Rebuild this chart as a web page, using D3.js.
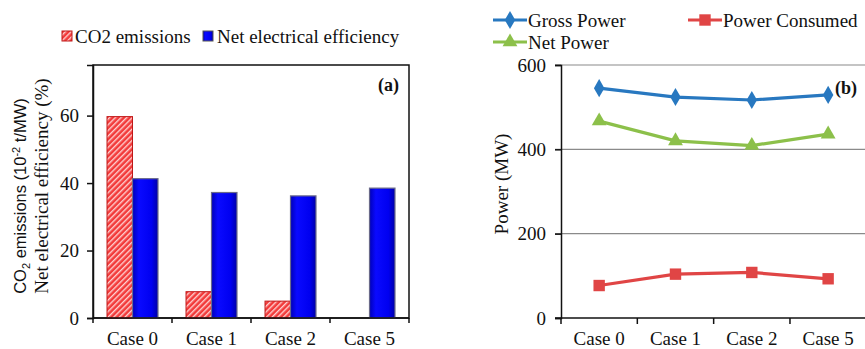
<!DOCTYPE html>
<html>
<head>
<meta charset="utf-8">
<script src="https://cdn.jsdelivr.net/npm/d3@7"></script>
<style>
  body { margin: 0; background: #fff; }
</style>
</head>
<body>
<div id="graph"></div>
<script>
// data
const cases = ["Case 0", "Case 1", "Case 2", "Case 5"];
const co2 = [59.7, 7.8, 5.0, 0];
const efficiency = [41.3, 37.2, 36.2, 38.5];
const leftTicks = [0, 20, 40, 60];

const grossPower = [545, 524, 517, 529];
const powerConsumed = [77, 104, 108, 93];
const netPower = [467, 420, 409, 436];
const rightTicks = [0, 200, 400, 600];

const SERIF = "'Liberation Serif', 'Times New Roman', 'DejaVu Serif', serif";

let svg = d3.select("#graph")
  .append("svg")
  .attr("width", 865)
  .attr("height", 349)
  .style("font-family", SERIF);

let defs = svg.append("defs");
let hatch = defs.append("pattern")
  .attr("id", "hatch")
  .attr("patternUnits", "userSpaceOnUse")
  .attr("width", 4).attr("height", 4)
  .attr("patternTransform", "rotate(45)");
hatch.append("rect").attr("width", 4).attr("height", 4).attr("fill", "#f23a3a");
hatch.append("rect").attr("width", 1.4).attr("height", 4).attr("fill", "#ffd0d0");

let grad = defs.append("linearGradient").attr("id", "blueGrad")
  .attr("x1", 0).attr("x2", 1).attr("y1", 0).attr("y2", 0);
grad.append("stop").attr("offset", "0%").attr("stop-color", "#0000b8");
grad.append("stop").attr("offset", "25%").attr("stop-color", "#0a0aff");
grad.append("stop").attr("offset", "75%").attr("stop-color", "#0000f0");
grad.append("stop").attr("offset", "100%").attr("stop-color", "#0000a8");

function label(sel, size) {
  return sel.style("font-family", SERIF).style("font-size", size + "px").attr("fill", "#111");
}

// ---------- panel (a) ----------
let xA = d3.scaleBand().domain(cases).range([93, 409]);
let xA1 = d3.scaleBand().domain(["co2", "eff"]).range([0, xA.bandwidth()]).paddingOuter(0.55);
let yA = d3.scaleLinear().domain([0, 75]).range([318, 65]);

let gA = svg.append("g");

gA.append("rect")
  .attr("x", 93).attr("y", yA(75))
  .attr("width", 409 - 93).attr("height", yA(0) - yA(75))
  .attr("fill", "none").attr("stroke", "#111").attr("stroke-width", 1.5);

gA.selectAll(".co2bar")
  .data(co2)
  .enter()
  .append("rect")
  .attr("x", (d, i) => xA(cases[i]) + xA1("co2"))
  .attr("y", d => yA(d))
  .attr("width", xA1.bandwidth())
  .attr("height", d => yA(0) - yA(d))
  .attr("fill", "url(#hatch)")
  .attr("stroke", "#c01818").attr("stroke-width", 1);

gA.selectAll(".effbar")
  .data(efficiency)
  .enter()
  .append("rect")
  .attr("x", (d, i) => xA(cases[i]) + xA1("eff"))
  .attr("y", d => yA(d))
  .attr("width", xA1.bandwidth())
  .attr("height", d => yA(0) - yA(d))
  .attr("fill", "url(#blueGrad)")
  .attr("stroke", "#6a6a8a").attr("stroke-width", 1.2);

let axA = gA.append("g")
  .attr("transform", "translate(93,0)")
  .call(d3.axisLeft(yA).tickValues(leftTicks).tickSize(6).tickPadding(8));
axA.attr("font-family", null);
axA.select(".domain").attr("stroke", "#111").attr("stroke-width", 1.5);
axA.selectAll("line").attr("stroke", "#111").attr("stroke-width", 1.5);
label(axA.selectAll("text"), 19);

let bxA = gA.append("g").attr("transform", "translate(0,318)");
bxA.append("line").attr("x1", 93).attr("x2", 409).attr("stroke", "#111").attr("stroke-width", 1.5);
bxA.selectAll(".tk").data(cases.concat(["end"]))
  .enter().append("line")
  .attr("x1", (d, i) => i < cases.length ? xA(d) : 409)
  .attr("x2", (d, i) => i < cases.length ? xA(d) : 409)
  .attr("y1", 0).attr("y2", 5).attr("stroke", "#111").attr("stroke-width", 1.5);
label(bxA.selectAll(".lb").data(cases)
  .enter().append("text")
  .attr("x", d => xA(d) + xA.bandwidth() / 2)
  .attr("y", 27)
  .attr("text-anchor", "middle"), 19)
  .text(d => d);

label(gA.append("text")
  .attr("x", 399).attr("y", 91)
  .attr("text-anchor", "end"), 18)
  .style("font-weight", "bold")
  .text("(a)");

// y label, two lines
let ylab1 = gA.append("text")
  .attr("transform", "translate(26,196) rotate(-90)")
  .attr("text-anchor", "middle")
  .attr("fill", "#111")
  .style("font-family", "'Liberation Sans', Arial, sans-serif")
  .style("font-size", "16.5px");
ylab1.append("tspan").text("CO");
ylab1.append("tspan").attr("dy", 4).style("font-size", "11px").text("2");
ylab1.append("tspan").attr("dy", -4).text(" emissions (10");
ylab1.append("tspan").attr("dy", -6).style("font-size", "11px").text("-2");
ylab1.append("tspan").attr("dy", 6).text(" t/MW)");

label(gA.append("text")
  .attr("transform", "translate(48,186) rotate(-90)")
  .attr("text-anchor", "middle"), 19)
  .text("Net electrical efficiency (%)");

// legend (a)
let legA = gA.append("g");
legA.append("rect").attr("x", 62).attr("y", 31).attr("width", 10).attr("height", 10)
  .attr("fill", "url(#hatch)").attr("stroke", "#c01818");
label(legA.append("text").attr("x", 75).attr("y", 43), 19).text("CO2 emissions");
legA.append("rect").attr("x", 203).attr("y", 31).attr("width", 10).attr("height", 10)
  .attr("fill", "url(#blueGrad)").attr("stroke", "#555");
label(legA.append("text").attr("x", 217).attr("y", 43), 19).text("Net electrical efficiency");

// ---------- panel (b) ----------
let xB = d3.scaleBand().domain(cases).range([561, 866.3]);
let yB = d3.scaleLinear().domain([0, 600]).range([318, 65]);

let gB = svg.append("g");

gB.selectAll(".grid").data(rightTicks.filter(d => d > 0))
  .enter().append("line")
  .attr("x1", 555).attr("x2", 866)
  .attr("y1", d => yB(d)).attr("y2", d => yB(d))
  .attr("stroke", "#8a8a8a").attr("stroke-width", 1.2);

let axB = gB.append("g")
  .attr("transform", "translate(561,0)")
  .call(d3.axisLeft(yB).tickValues(rightTicks).tickSize(6).tickPadding(9));
axB.attr("font-family", null);
axB.select(".domain").attr("stroke", "#111").attr("stroke-width", 1.5);
axB.selectAll("line").attr("stroke", "#111").attr("stroke-width", 1.5);
label(axB.selectAll("text"), 19);

let bxB = gB.append("g").attr("transform", "translate(0,318)");
bxB.append("line").attr("x1", 555).attr("x2", 866).attr("stroke", "#111").attr("stroke-width", 1.5);
bxB.selectAll(".tk").data(cases)
  .enter().append("line")
  .attr("x1", d => xB(d)).attr("x2", d => xB(d))
  .attr("y1", 0).attr("y2", 6).attr("stroke", "#111").attr("stroke-width", 1.5);
label(bxB.selectAll(".lb").data(cases)
  .enter().append("text")
  .attr("x", d => xB(d) + xB.bandwidth() / 2)
  .attr("y", 27)
  .attr("text-anchor", "middle"), 19)
  .text(d => d);

label(gB.append("text")
  .attr("transform", "translate(508,184) rotate(-90)")
  .attr("text-anchor", "middle"), 19)
  .text("Power (MW)");

let series = [
  { name: "Gross Power", values: grossPower, color: "#2878c0", shape: d3.symbolDiamond, size: 95 },
  { name: "Power Consumed", values: powerConsumed, color: "#e04545", shape: d3.symbolSquare, size: 130 },
  { name: "Net Power", values: netPower, color: "#8cc04a", shape: d3.symbolTriangle, size: 95 }
];

let line = d3.line()
  .x((d, i) => xB(cases[i]) + xB.bandwidth() / 2)
  .y(d => yB(d));

series.forEach(s => {
  gB.append("path")
    .datum(s.values)
    .attr("d", line)
    .attr("fill", "none")
    .attr("stroke", s.color)
    .attr("stroke-width", 3.2);
  gB.selectAll(null).data(s.values)
    .enter().append("path")
    .attr("d", d3.symbol().type(s.shape).size(s.size))
    .attr("transform", (d, i) => "translate(" + (xB(cases[i]) + xB.bandwidth() / 2) + "," + yB(d) + ")")
    .attr("fill", s.color);
});

label(gB.append("text")
  .attr("x", 835).attr("y", 94), 18)
  .style("font-weight", "bold")
  .text("(b)");

// legend (b)
let legPos = [
  { x: 493, y: 20 },
  { x: 688, y: 20 },
  { x: 493, y: 42 }
];
series.forEach((s, i) => {
  let p = legPos[i];
  let lg = gB.append("g").attr("transform", "translate(" + p.x + "," + p.y + ")");
  lg.append("line").attr("x1", 0).attr("x2", 34).attr("stroke", s.color).attr("stroke-width", 3.2);
  lg.append("path").attr("d", d3.symbol().type(s.shape).size(s.size))
    .attr("transform", "translate(17,0)").attr("fill", s.color);
  label(lg.append("text").attr("x", 35).attr("y", 7), 19).text(s.name);
});
</script>
</body>
</html>
